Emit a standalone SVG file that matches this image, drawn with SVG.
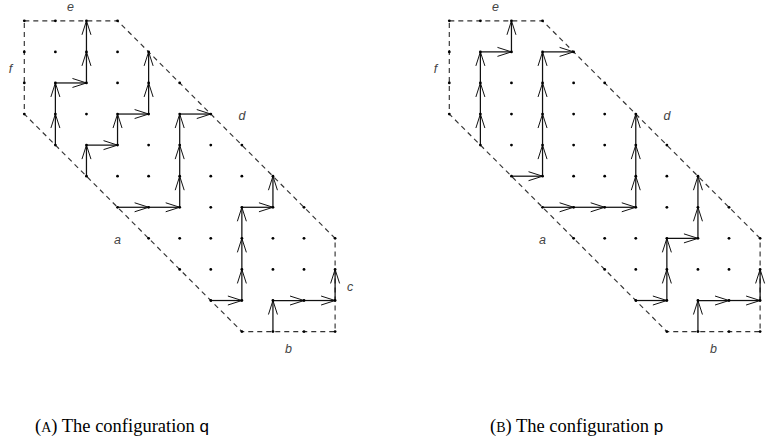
<svg xmlns="http://www.w3.org/2000/svg" xmlns:xlink="http://www.w3.org/1999/xlink" width="770" height="447" viewBox="0 0 770 447">
<style>
.bd{fill:none;stroke:#333;stroke-width:1.15;stroke-dasharray:5 4}
.pt{fill:#000}
.e line{stroke:#111;stroke-width:1.25;marker-end:url(#ah)}
.lb{font-family:"Liberation Sans",Arial,sans-serif;font-style:italic;font-size:12.5px;fill:#444;text-anchor:middle}
.cap{font-family:"Liberation Serif","Times New Roman",serif;font-size:18.5px;fill:#000}
.sf{font-family:"Liberation Sans",Arial,sans-serif;font-size:17px}
</style>
<defs>
<marker id="ah" markerUnits="userSpaceOnUse" viewBox="-15 -6 16 12" markerWidth="16" markerHeight="12" refX="0" refY="0" orient="auto">
<path d="M-14,-4.5 L0,0 L-14,4.5" fill="none" stroke="#111" stroke-width="1"/>
</marker>
<path id="hex" class="bd" d="M0,0 L93.24,0 L310.8,217.56 L310.8,310.8 L217.56,310.8 L0,93.24 Z"/>
<g id="lattice" class="pt">
<circle cx="0" cy="0" r="1.4"/><circle cx="0" cy="31.08" r="1.4"/><circle cx="0" cy="62.16" r="1.4"/><circle cx="0" cy="93.24" r="1.4"/>
<circle cx="31.08" cy="0" r="1.4"/><circle cx="31.08" cy="31.08" r="1.4"/><circle cx="31.08" cy="62.16" r="1.4"/><circle cx="31.08" cy="93.24" r="1.4"/><circle cx="31.08" cy="124.32" r="1.4"/>
<circle cx="62.16" cy="0" r="1.4"/><circle cx="62.16" cy="31.08" r="1.4"/><circle cx="62.16" cy="62.16" r="1.4"/><circle cx="62.16" cy="93.24" r="1.4"/><circle cx="62.16" cy="124.32" r="1.4"/><circle cx="62.16" cy="155.4" r="1.4"/>
<circle cx="93.24" cy="0" r="1.4"/><circle cx="93.24" cy="31.08" r="1.4"/><circle cx="93.24" cy="62.16" r="1.4"/><circle cx="93.24" cy="93.24" r="1.4"/><circle cx="93.24" cy="124.32" r="1.4"/><circle cx="93.24" cy="155.4" r="1.4"/><circle cx="93.24" cy="186.48" r="1.4"/>
<circle cx="124.32" cy="31.08" r="1.4"/><circle cx="124.32" cy="62.16" r="1.4"/><circle cx="124.32" cy="93.24" r="1.4"/><circle cx="124.32" cy="124.32" r="1.4"/><circle cx="124.32" cy="155.4" r="1.4"/><circle cx="124.32" cy="186.48" r="1.4"/><circle cx="124.32" cy="217.56" r="1.4"/>
<circle cx="155.4" cy="62.16" r="1.4"/><circle cx="155.4" cy="93.24" r="1.4"/><circle cx="155.4" cy="124.32" r="1.4"/><circle cx="155.4" cy="155.4" r="1.4"/><circle cx="155.4" cy="186.48" r="1.4"/><circle cx="155.4" cy="217.56" r="1.4"/><circle cx="155.4" cy="248.64" r="1.4"/>
<circle cx="186.48" cy="93.24" r="1.4"/><circle cx="186.48" cy="124.32" r="1.4"/><circle cx="186.48" cy="155.4" r="1.4"/><circle cx="186.48" cy="186.48" r="1.4"/><circle cx="186.48" cy="217.56" r="1.4"/><circle cx="186.48" cy="248.64" r="1.4"/><circle cx="186.48" cy="279.72" r="1.4"/>
<circle cx="217.56" cy="124.32" r="1.4"/><circle cx="217.56" cy="155.4" r="1.4"/><circle cx="217.56" cy="186.48" r="1.4"/><circle cx="217.56" cy="217.56" r="1.4"/><circle cx="217.56" cy="248.64" r="1.4"/><circle cx="217.56" cy="279.72" r="1.4"/><circle cx="217.56" cy="310.8" r="1.4"/>
<circle cx="248.64" cy="155.4" r="1.4"/><circle cx="248.64" cy="186.48" r="1.4"/><circle cx="248.64" cy="217.56" r="1.4"/><circle cx="248.64" cy="248.64" r="1.4"/><circle cx="248.64" cy="279.72" r="1.4"/><circle cx="248.64" cy="310.8" r="1.4"/>
<circle cx="279.72" cy="186.48" r="1.4"/><circle cx="279.72" cy="217.56" r="1.4"/><circle cx="279.72" cy="248.64" r="1.4"/><circle cx="279.72" cy="279.72" r="1.4"/><circle cx="279.72" cy="310.8" r="1.4"/>
<circle cx="310.8" cy="217.56" r="1.4"/><circle cx="310.8" cy="248.64" r="1.4"/><circle cx="310.8" cy="279.72" r="1.4"/><circle cx="310.8" cy="310.8" r="1.4"/>
</g>
</defs>
<rect width="770" height="447" fill="#fff"/>

<g id="figA" transform="translate(24.3,20.8)">
<use xlink:href="#hex" href="#hex"/>
<g id="connectorsA" class="e">
<line x1="31.08" y1="124.32" x2="31.08" y2="93.24"/>
<line x1="31.08" y1="93.24" x2="31.08" y2="62.16"/>
<line x1="31.08" y1="62.16" x2="62.16" y2="62.16"/>
<line x1="62.16" y1="62.16" x2="62.16" y2="31.08"/>
<line x1="62.16" y1="31.08" x2="62.16" y2="0"/>

<line x1="62.16" y1="155.4" x2="62.16" y2="124.32"/>
<line x1="62.16" y1="124.32" x2="93.24" y2="124.32"/>
<line x1="93.24" y1="124.32" x2="93.24" y2="93.24"/>
<line x1="93.24" y1="93.24" x2="124.32" y2="93.24"/>
<line x1="124.32" y1="93.24" x2="124.32" y2="62.16"/>
<line x1="124.32" y1="62.16" x2="124.32" y2="31.08"/>

<line x1="93.24" y1="186.48" x2="124.32" y2="186.48"/>
<line x1="124.32" y1="186.48" x2="155.4" y2="186.48"/>
<line x1="155.4" y1="186.48" x2="155.4" y2="155.4"/>
<line x1="155.4" y1="155.4" x2="155.4" y2="124.32"/>
<line x1="155.4" y1="124.32" x2="155.4" y2="93.24"/>
<line x1="155.4" y1="93.24" x2="186.48" y2="93.24"/>

<line x1="186.48" y1="279.72" x2="217.56" y2="279.72"/>
<line x1="217.56" y1="279.72" x2="217.56" y2="248.64"/>
<line x1="217.56" y1="248.64" x2="217.56" y2="217.56"/>
<line x1="217.56" y1="217.56" x2="217.56" y2="186.48"/>
<line x1="217.56" y1="186.48" x2="248.64" y2="186.48"/>
<line x1="248.64" y1="186.48" x2="248.64" y2="155.4"/>

<line x1="248.64" y1="310.8" x2="248.64" y2="279.72"/>
<line x1="248.64" y1="279.72" x2="279.72" y2="279.72"/>
<line x1="279.72" y1="279.72" x2="310.8" y2="279.72"/>
<line x1="310.8" y1="279.72" x2="310.8" y2="248.64"/>
</g>
<use xlink:href="#lattice" href="#lattice"/>
</g>

<g id="labelsA" class="lb">
<text x="70.5" y="11">e</text>
<text x="10.5" y="73">f</text>
<text x="242" y="120">d</text>
<text x="117.5" y="244">a</text>
<text x="350" y="291">c</text>
<text x="288.5" y="353">b</text>
</g>

<g id="figB" transform="translate(449.3,20.8)">
<use xlink:href="#hex" href="#hex"/>
<g id="connectorsB" class="e">
<line x1="31.08" y1="124.32" x2="31.08" y2="93.24"/>
<line x1="31.08" y1="93.24" x2="31.08" y2="62.16"/>
<line x1="31.08" y1="62.16" x2="31.08" y2="31.08"/>
<line x1="31.08" y1="31.08" x2="62.16" y2="31.08"/>
<line x1="62.16" y1="31.08" x2="62.16" y2="0"/>

<line x1="62.16" y1="155.4" x2="93.24" y2="155.4"/>
<line x1="93.24" y1="155.4" x2="93.24" y2="124.32"/>
<line x1="93.24" y1="124.32" x2="93.24" y2="93.24"/>
<line x1="93.24" y1="93.24" x2="93.24" y2="62.16"/>
<line x1="93.24" y1="62.16" x2="93.24" y2="31.08"/>
<line x1="93.24" y1="31.08" x2="124.32" y2="31.08"/>

<line x1="93.24" y1="186.48" x2="124.32" y2="186.48"/>
<line x1="124.32" y1="186.48" x2="155.4" y2="186.48"/>
<line x1="155.4" y1="186.48" x2="186.48" y2="186.48"/>
<line x1="186.48" y1="186.48" x2="186.48" y2="155.4"/>
<line x1="186.48" y1="155.4" x2="186.48" y2="124.32"/>
<line x1="186.48" y1="124.32" x2="186.48" y2="93.24"/>

<line x1="186.48" y1="279.72" x2="217.56" y2="279.72"/>
<line x1="217.56" y1="279.72" x2="217.56" y2="248.64"/>
<line x1="217.56" y1="248.64" x2="217.56" y2="217.56"/>
<line x1="217.56" y1="217.56" x2="248.64" y2="217.56"/>
<line x1="248.64" y1="217.56" x2="248.64" y2="186.48"/>
<line x1="248.64" y1="186.48" x2="248.64" y2="155.4"/>

<line x1="248.64" y1="310.8" x2="248.64" y2="279.72"/>
<line x1="248.64" y1="279.72" x2="279.72" y2="279.72"/>
<line x1="279.72" y1="279.72" x2="310.8" y2="279.72"/>
<line x1="310.8" y1="279.72" x2="310.8" y2="248.64"/>
</g>
<use xlink:href="#lattice" href="#lattice"/>
</g>

<g id="labelsB" class="lb">
<text x="495.5" y="11">e</text>
<text x="435.5" y="73">f</text>
<text x="667" y="120">d</text>
<text x="542.5" y="244">a</text>
<text x="713.5" y="353">b</text>
</g>

<g id="captions" class="cap">
<text x="35" y="432">(<tspan font-size="14">A</tspan>) The configuration <tspan class="sf">q</tspan></text>
<text x="490" y="432">(<tspan font-size="14">B</tspan>) The configuration <tspan class="sf">p</tspan></text>
</g>
</svg>
